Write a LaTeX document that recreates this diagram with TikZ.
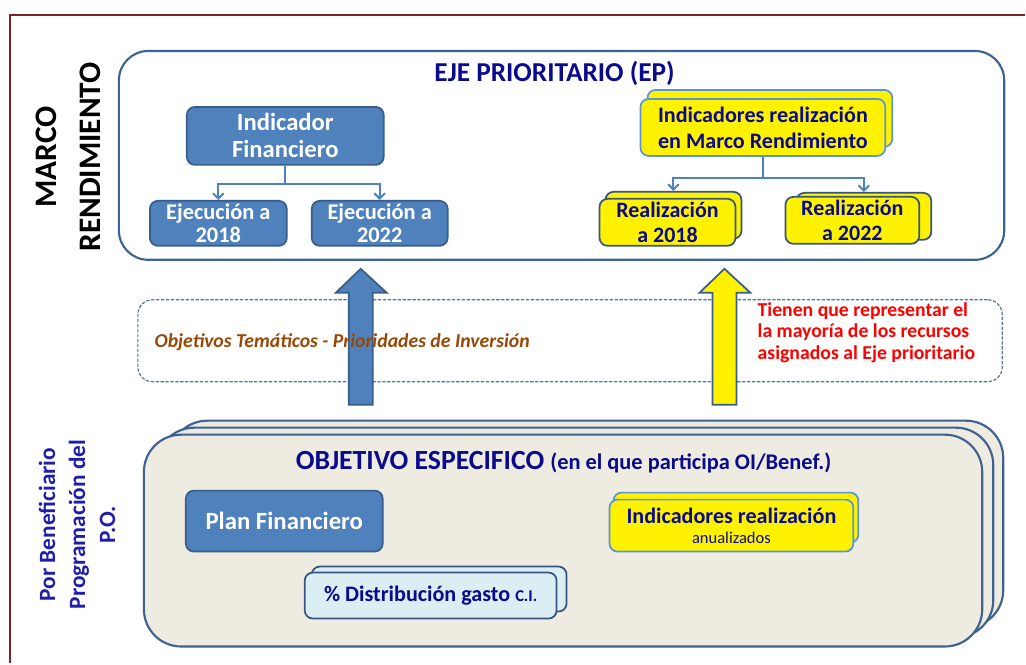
\documentclass[tikz,border=0pt]{standalone}
\usepackage{fontspec}
\setmainfont{Carlito}
\usetikzlibrary{positioning}
\usetikzlibrary{arrows.meta}

\definecolor{framered}{RGB}{122,38,38}
\definecolor{panelblue}{RGB}{62,98,145}
\definecolor{bluefill}{RGB}{79,129,189}
\definecolor{blueedge}{RGB}{56,93,138}
\definecolor{lightedge}{RGB}{90,150,215}
\definecolor{darkedge}{RGB}{55,85,130}
\definecolor{navy}{RGB}{10,10,140}
\definecolor{pobblue}{RGB}{30,30,170}
\definecolor{beige}{RGB}{238,236,225}
\definecolor{paleblue}{RGB}{219,238,244}
\definecolor{brownish}{RGB}{152,72,6}
\definecolor{dashblue}{RGB}{90,115,155}

\begin{document}
\begin{tikzpicture}[x=0.75pt,y=-0.75pt,
      frame/.style={draw=framered, line width=1.2pt},
      panel/.style={draw=panelblue, fill=white, line width=1.6pt, rounded corners=22pt},
      wh/.style 2 args={minimum width=#1*0.75pt, minimum height=#2*0.75pt, inner sep=0pt},
      bluebox/.style={draw=blueedge, fill=bluefill, line width=1.3pt, rounded corners=6pt, text=white, align=center},
      yellowbox/.style={draw=lightedge, fill=yellow, line width=1.3pt, rounded corners=6pt, text=navy, align=center},
      realbox/.style={yellowbox, draw=darkedge},
      paleblox/.style={draw=darkedge, fill=paleblue, line width=1.3pt, rounded corners=6pt, text=navy, align=center},
      oebox/.style={draw=panelblue, fill=beige, line width=1.6pt, rounded corners=28pt},
      otbox/.style={draw=dashblue, line width=0.9pt, dash pattern=on 2.5pt off 1.2pt, rounded corners=11pt},
      link/.style={draw=bluefill, line width=1.5pt, >={Straight Barb[length=4pt,width=8pt]}},
      blockarrow/.style={draw=blueedge, line width=1.3pt, line join=miter},
  ]
  % frame
  \draw[frame] (10,664) -- (10,15) -- (1026,15);
  \useasboundingbox (0,0) rectangle (1026,664);

  % upper panel: eje prioritario
  \node[panel, wh={886}{209}] (ep) at (562,155.5) {};
  \node[text=navy, font=\fontsize{20.5}{24}\selectfont\bfseries] (eptitle) at (555,73) {EJE PRIORITARIO (EP)};
  \node[rotate=90, align=center, font=\fontsize{23.5}{33}\selectfont\bfseries] (marco) at (68,157) {MARCO\\RENDIMIENTO};

  % indicador financiero
  \node[bluebox, wh={197}{58}, font=\fontsize{18.5}{20.3}\selectfont\bfseries] (indfin) at (285.5,136) {Indicador\\Financiero};
  \node[bluebox, wh={137}{45}, font=\fontsize{16.8}{17.3}\selectfont\bfseries] (eje18) at (218.5,223.5) {Ejecución a\\2018};
  \node[bluebox, wh={136}{45}, font=\fontsize{16.8}{17.3}\selectfont\bfseries] (eje22) at (380,223.5) {Ejecución a\\2022};
  \draw[link] (indfin.south) -- ++(0,18) coordinate (forkfin);
  \draw[link,->] (forkfin) -| (eje18.north);
  \draw[link,->] (forkfin) -| (eje22.north);

  % indicadores de realizacion
  \node[yellowbox, wh={245}{57}] (indmrback) at (770.5,118.5) {};
  \node[yellowbox, wh={245}{57}, font=\fontsize{16.6}{19.5}\selectfont\bfseries] (indmr) at (763.5,127.5) {Indicadores realización\\en Marco Rendimiento};
  \node[realbox, wh={136}{47}] (real18back) at (674,215.5) {};
  \node[realbox, wh={136}{47}, font=\fontsize{16.5}{18.7}\selectfont\bfseries] (real18) at (668,222.5) {Realización\\a 2018};
  \node[realbox, wh={135}{47}] (real22back) at (864.5,216.5) {};
  \node[realbox, wh={134}{47}, font=\fontsize{16.5}{18.7}\selectfont\bfseries] (real22) at (853,220.5) {Realización\\a 2022};
  \draw[link] (indmr.south) -- ++(0,21) coordinate (forkmr);
  \draw[link,->] (forkmr) -| (real18back.north);
  \draw[link,->] (forkmr) -| (real22back.north);

  % objetivos tematicos
  \node[otbox, wh={865}{82}] (ot) at (570.5,341) {};

  % block arrows
  \foreach \ax/\col in {361/bluefill, 725/yellow} {
      \draw[blockarrow, fill=\col] (\ax-12,405) -- (\ax-12,293) -- (\ax-25,293) -- (\ax,269)
          -- (\ax+26,293) -- (\ax+12,293) -- (\ax+12,405) -- cycle;
  }
  \node[anchor=west, text=brownish, font=\fontsize{14.8}{17}\selectfont\bfseries\itshape] (ottext) at (150,342) {Objetivos Temáticos - Prioridades de Inversión};
  \node[anchor=west, align=left, text=red, font=\fontsize{14.8}{16.2}\selectfont\bfseries, inner sep=0pt] (note) at (758,333) {Tienen que representar el\\la mayoría de los recursos\\asignados al Eje prioritario};

  % objetivo especifico
  \node[oebox, wh={834}{207}] (oeback) at (587,524.5) {};
  \node[oebox, wh={837}{210}] (oemid) at (575.5,533) {};
  \node[oebox, wh={839}{212}] (oe) at (563.5,541) {};
  \node[anchor=base, text=navy, font=\bfseries, inner sep=0pt] (oetitle) at (564,470) {{\fontsize{20.8}{24}\selectfont OBJETIVO ESPECIFICO}\ \ {\fontsize{16.8}{18}\selectfont (en el que participa OI/Benef.)}};
  \node[rotate=90, align=center, text=pobblue, font=\fontsize{17.5}{22.5}\selectfont\bfseries] (pobenef) at (77,525) {Por Beneficiario\\Programación del\\P.O.};

  \node[bluebox, wh={197}{61}, font=\fontsize{18.6}{20}\selectfont\bfseries] (planfin) at (284.5,521.5) {Plan Financiero};
  \node[yellowbox, wh={245}{50}] (indanuback) at (736.5,518) {};
  \node[yellowbox, wh={244}{52}, font=\fontsize{16.6}{15}\selectfont\bfseries] (indanu) at (732,526) {Indicadores realización\\{\fontsize{12.4}{15}\selectfont\mdseries anualizados}};
  \node[paleblox, wh={255}{45}] (distribback) at (439.5,589.5) {};
  \node[paleblox, wh={252}{46}, font=\fontsize{16.6}{18}\selectfont\bfseries] (distrib) at (431,596) {\% Distribución gasto {\fontsize{12.4}{14}\selectfont C.I.}};
\end{tikzpicture}
\end{document}
